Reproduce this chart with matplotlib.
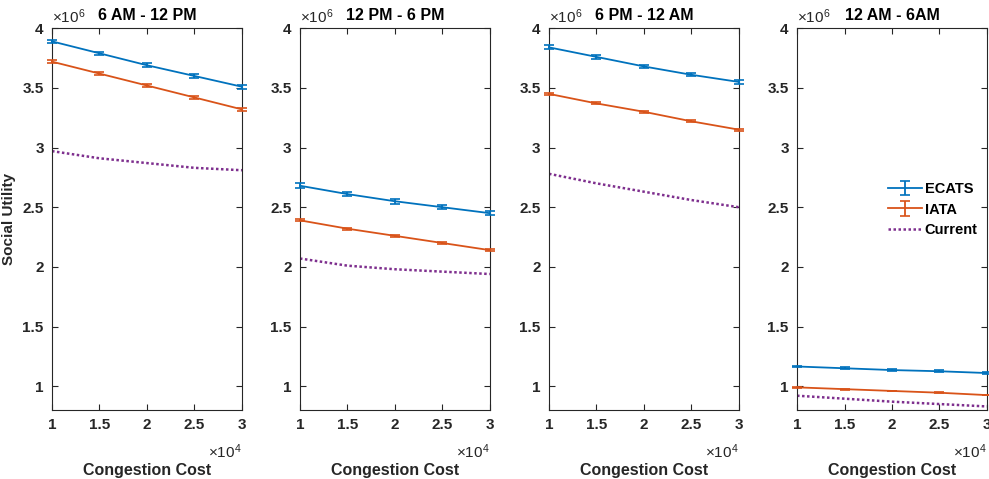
import matplotlib.pyplot as plt

plt.rcParams['font.family'] = ['Liberation Sans', 'DejaVu Sans']
plt.rcParams['font.weight'] = 'bold'
plt.rcParams['mathtext.default'] = 'regular'

cost = [10000, 15000, 20000, 25000, 30000]
titles = ["6 AM - 12 PM", "12 PM - 6 PM", "6 PM - 12 AM", "12 AM - 6AM"]

# social utility values (x1e6)
ecats = [
    [3.89, 3.79, 3.69, 3.60, 3.51],
    [2.68, 2.61, 2.55, 2.50, 2.45],
    [3.84, 3.76, 3.68, 3.61, 3.55],
    [1.165, 1.15, 1.135, 1.125, 1.11],
]
ecats_err = [
    [0.015, 0.013, 0.015, 0.015, 0.016],
    [0.020, 0.018, 0.020, 0.016, 0.018],
    [0.016, 0.014, 0.013, 0.013, 0.014],
    [0.008, 0.007, 0.007, 0.007, 0.007],
]
iata = [
    [3.72, 3.62, 3.52, 3.42, 3.32],
    [2.39, 2.32, 2.26, 2.20, 2.14],
    [3.45, 3.37, 3.30, 3.22, 3.15],
    [0.99, 0.975, 0.96, 0.945, 0.925],
]
iata_err = [
    [0.013, 0.012, 0.012, 0.011, 0.012],
    [0.008, 0.007, 0.007, 0.007, 0.008],
    [0.010, 0.009, 0.008, 0.008, 0.009],
    [0.003, 0.003, 0.003, 0.003, 0.003],
]
current = [
    [2.97, 2.91, 2.87, 2.83, 2.81],
    [2.07, 2.01, 1.98, 1.96, 1.94],
    [2.78, 2.70, 2.63, 2.56, 2.50],
    [0.92, 0.895, 0.87, 0.85, 0.83],
]

blue = "#0072BD"
orange = "#D95319"
purple = "#7E2F8E"
axcol = "#262626"

fig = plt.figure(figsize=(9.89, 4.79), dpi=100)
lefts = [0.0526, 0.3033, 0.5551, 0.8059]

for i in range(4):
    ax = fig.add_axes([lefts[i], 0.144, 0.192, 0.797])
    e = [v * 1e6 for v in ecats[i]]
    ee = [v * 1e6 for v in ecats_err[i]]
    a = [v * 1e6 for v in iata[i]]
    ae = [v * 1e6 for v in iata_err[i]]
    c = [v * 1e6 for v in current[i]]
    h1 = ax.errorbar(cost, e, yerr=ee, color=blue, lw=1.3, capsize=3.5, capthick=1.2,
                     label="ECATS", clip_on=False, zorder=3)
    h2 = ax.errorbar(cost, a, yerr=ae, color=orange, lw=1.3, capsize=3.5, capthick=1.2,
                     label="IATA", clip_on=False, zorder=3)
    h3, = ax.plot(cost, c, color=purple, lw=1.8, ls=(0, (1, 1)), label="Current")
    for art in h1.lines[1] + h1.lines[2] + h2.lines[1] + h2.lines[2]:
        art.set_clip_on(False)

    ax.set_xlim(10000, 30000)
    ax.set_ylim(0.8e6, 4e6)
    ax.set_xticks([10000, 15000, 20000, 25000, 30000])
    ax.set_xticklabels(["1", "1.5", "2", "2.5", "3"])
    ax.set_yticks([1e6, 1.5e6, 2e6, 2.5e6, 3e6, 3.5e6, 4e6])
    ax.set_yticklabels(["1", "1.5", "2", "2.5", "3", "3.5", "4"])
    ax.tick_params(axis="both", direction="in", top=True, right=True, labelsize=11,
                   colors=axcol, length=4, width=0.8, pad=6)
    for s in ax.spines.values():
        s.set_color(axcol)
        s.set_linewidth(0.8)

    ax.set_title(titles[i], fontsize=11.5, fontweight="bold", pad=6, color="black")
    ax.text(0.0, 1.005, r"$\times10^6$", transform=ax.transAxes, fontsize=11,
            ha="left", va="bottom", color=axcol, fontweight="normal")
    ax.text(1.0, -0.085, r"$\times10^4$", transform=ax.transAxes, fontsize=11,
            ha="right", va="top", color=axcol, fontweight="normal")
    ax.set_xlabel("Congestion Cost", fontsize=11.5, fontweight="bold", labelpad=22, color=axcol)
    if i == 0:
        ax.set_ylabel("Social Utility", fontsize=11, fontweight="bold", color=axcol)
        ax.yaxis.set_label_coords(-0.19, 0.5)
    if i == 3:
        ax.legend([h1, h2, h3], ["ECATS", "IATA", "Current"], loc="center right",
                  bbox_to_anchor=(1.02, 0.525), frameon=False,
                  fontsize=10.5, handlelength=2.3, handletextpad=0.2, labelspacing=0.45)

plt.savefig("out.png", dpi=100)
